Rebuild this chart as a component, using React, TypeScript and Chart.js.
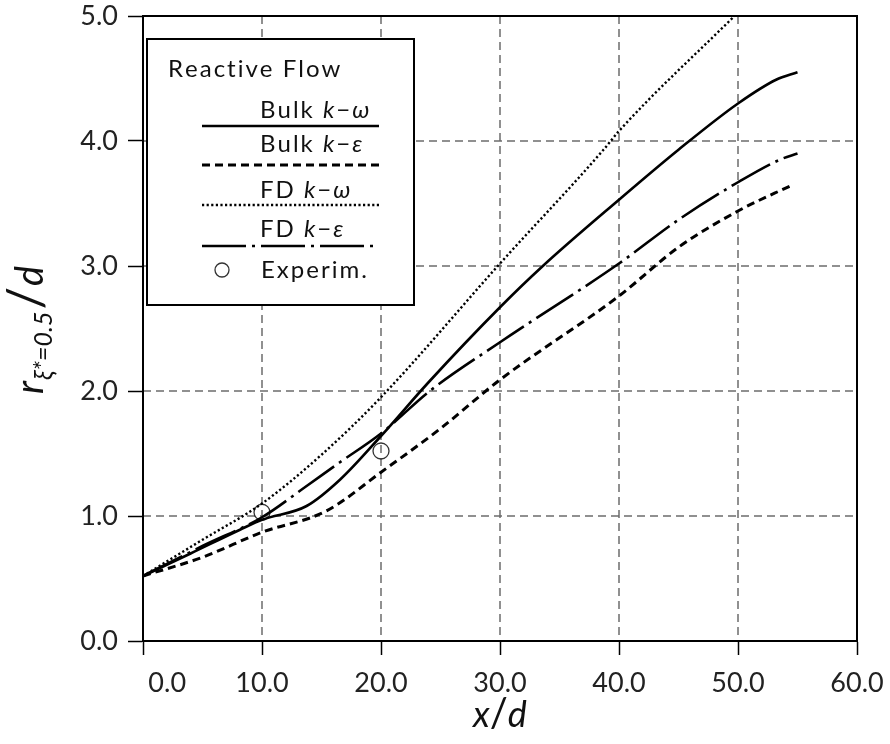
import React, { useEffect, useRef } from "react";
import { Chart, registerables } from "chart.js";

Chart.register(...registerables);

// ---- data ----
const xTicks = [0, 10, 20, 30, 40, 50, 60];
const yTicks = [0, 1, 2, 3, 4, 5];

const bulkKwX = [0, 4, 8.15, 10, 13.75, 16.55, 20, 24, 30, 33.6, 40, 45, 50, 53.2, 55];
const bulkKwY = [0.52, 0.7, 0.89, 0.97, 1.08, 1.29, 1.64, 2.07, 2.67, 3.0, 3.53, 3.93, 4.3, 4.49, 4.55];

const bulkKeX = [0, 5, 10, 15.4, 20, 25, 30, 40, 45, 50, 54.6];
const bulkKeY = [0.52, 0.67, 0.87, 1.04, 1.35, 1.7, 2.09, 2.76, 3.15, 3.44, 3.65];

const fdKwX = [0, 5, 10, 15, 20, 30, 38.7, 40, 49.7];
const fdKwY = [0.52, 0.81, 1.1, 1.49, 1.95, 3.02, 3.93, 4.08, 5.0];

const fdKeX = [0, 5, 10, 13.75, 16.55, 20, 24.1, 30, 40, 45, 50, 53.5, 55];
const fdKeY = [0.52, 0.76, 0.99, 1.24, 1.43, 1.66, 2.0, 2.39, 3.02, 3.37, 3.67, 3.85, 3.9];

const expX = [10, 20];
const expY = [1.03, 1.52];

const legendTitle = "Reactive Flow";
const seriesNames = ["Bulk", "Bulk", "FD", "FD"];
const seriesModels = [["k", "ω"], ["k", "ε"], ["k", "ω"], ["k", "ε"]];
const expLabel = "Experim.";

const FONT = "Lato, 'DejaVu Sans', sans-serif";

const pts = (xs: number[], ys: number[]) => xs.map((x, i) => ({ x, y: ys[i] }));

const lineStyles = [
  { dash: [] as number[], width: 2.6 },
  { dash: [8, 5], width: 3 },
  { dash: [2.2, 2.4], width: 2.4 },
  { dash: [44, 6, 3, 6], width: 2.6 },
];

type Part = [string, boolean, number, number, number?];

// draws text piece by piece; `sp` is extra space between characters
function drawParts(ctx: CanvasRenderingContext2D, x: number, y: number, parts: Part[], sp = 0) {
  let cx = x;
  for (const [t, it, size, dy, gap] of parts) {
    ctx.font = `${it ? "italic " : ""}${size}px ${FONT}`;
    if (sp === 0) {
      ctx.fillText(t, cx, y + dy);
      cx += ctx.measureText(t).width + (gap || 0);
    } else {
      for (const ch of Array.from(t)) {
        ctx.fillText(ch, cx, y + dy);
        cx += ctx.measureText(ch).width + sp;
      }
      cx += gap || 0;
    }
  }
  return cx;
}
function partsWidth(ctx: CanvasRenderingContext2D, parts: Part[]) {
  let w = 0;
  for (const [t, it, size, , gap] of parts) {
    ctx.font = `${it ? "italic " : ""}${size}px ${FONT}`;
    w += ctx.measureText(t).width + (gap || 0);
  }
  return w;
}

const decorPlugin = {
  id: "decor",
  beforeDatasetsDraw(chart: any) {
    const { ctx, chartArea: a, scales } = chart;
    const xs = scales.x, ys = scales.y;
    ctx.save();
    ctx.strokeStyle = "#6c6c6c";
    ctx.lineWidth = 1.5;
    ctx.setLineDash([8, 5]);
    for (const v of xTicks) {
      if (v === xs.min || v === xs.max) continue;
      const px = xs.getPixelForValue(v);
      ctx.beginPath();
      ctx.moveTo(px, a.top);
      ctx.lineTo(px, a.bottom);
      ctx.stroke();
    }
    for (const v of yTicks) {
      if (v === ys.min || v === ys.max) continue;
      const py = ys.getPixelForValue(v);
      ctx.beginPath();
      ctx.moveTo(a.left, py);
      ctx.lineTo(a.right, py);
      ctx.stroke();
    }
    ctx.restore();
  },
  afterDraw(chart: any) {
    const { ctx, chartArea: a } = chart;
    ctx.save();
    ctx.setLineDash([]);
    ctx.strokeStyle = "#000";
    ctx.lineWidth = 2;
    ctx.strokeRect(a.left, a.top, a.right - a.left, a.bottom - a.top);

    // legend box
    const bx = 147, by = 39, bw = 267, bh = 266;
    ctx.fillStyle = "#fff";
    ctx.fillRect(bx, by, bw, bh);
    ctx.lineWidth = 2;
    ctx.strokeRect(bx, by, bw, bh);

    ctx.fillStyle = "#111";
    ctx.textBaseline = "middle";
    ctx.textAlign = "left";
    drawParts(ctx, 168, 69, [[legendTitle, false, 24, 0]], 2);

    const textY = [110, 144, 190, 229];
    const lineY = [126, 165, 205, 246];
    for (let i = 0; i < 4; i++) {
      const [k, g] = seriesModels[i];
      drawParts(
        ctx,
        260,
        textY[i],
        [
          [seriesNames[i] + " ", false, 24, 0],
          [k, true, 24, 0],
          ["−", false, 24, 0],
          [g, true, 24, 0],
        ],
        2
      );
      ctx.save();
      ctx.setLineDash(lineStyles[i].dash);
      ctx.lineWidth = lineStyles[i].width;
      ctx.strokeStyle = "#000";
      ctx.beginPath();
      ctx.moveTo(202, lineY[i]);
      ctx.lineTo(379, lineY[i]);
      ctx.stroke();
      ctx.restore();
    }
    ctx.beginPath();
    ctx.lineWidth = 1.3;
    ctx.strokeStyle = "#333";
    ctx.arc(222, 270, 7, 0, Math.PI * 2);
    ctx.stroke();
    drawParts(ctx, 261, 270, [[expLabel, false, 24, 0]], 2);

    // x axis title
    ctx.textBaseline = "alphabetic";
    ctx.textAlign = "left";
    const xParts: Part[] = [
      ["x", true, 36, 0],
      ["/", false, 40, 0],
      ["d", true, 36, 0],
    ];
    const cxMid = (a.left + a.right) / 2;
    const xw = partsWidth(ctx, xParts);
    drawParts(ctx, cxMid - xw / 2, 727, xParts);

    // y axis title (rotated)
    const yParts: Part[] = [
      ["r", true, 38, 0, 1],
      ["ξ*=0.5", true, 25, 9, 2],
      ["/", false, 50, 0, 1],
      ["d", true, 38, 0],
    ];
    const yw = partsWidth(ctx, yParts);
    ctx.save();
    ctx.translate(43, 330 + yw / 2);
    ctx.rotate(-Math.PI / 2);
    drawParts(ctx, 0, 0, yParts);
    ctx.restore();

    ctx.restore();
  },
};

export default function App() {
  const ref = useRef<HTMLCanvasElement | null>(null);
  useEffect(() => {
    if (!ref.current) return;
    const datasets: any[] = [
      { label: "Bulk k−ω", data: pts(bulkKwX, bulkKwY) },
      { label: "Bulk k−ε", data: pts(bulkKeX, bulkKeY) },
      { label: "FD k−ω", data: pts(fdKwX, fdKwY) },
      { label: "FD k−ε", data: pts(fdKeX, fdKeY) },
    ].map((d, i) => ({
      ...d,
      type: "line",
      borderColor: "#000",
      borderWidth: lineStyles[i].width,
      borderDash: lineStyles[i].dash,
      pointRadius: 0,
      fill: false,
      cubicInterpolationMode: "monotone",
      borderCapStyle: "butt",
    }));
    datasets.push({
      label: "Experim.",
      type: "scatter",
      data: pts(expX, expY),
      showLine: false,
      pointRadius: 8,
      pointStyle: "circle",
      borderColor: "#333",
      borderWidth: 1.3,
      backgroundColor: "rgba(0,0,0,0)",
    });
    const chart = new Chart(ref.current, {
      type: "line",
      data: { datasets },
      options: {
        animation: false,
        responsive: false,
        devicePixelRatio: 1,
        layout: { padding: { left: 0, top: 16, right: 33, bottom: 0 } },
        plugins: { legend: { display: false }, tooltip: { enabled: false } },
        scales: {
          x: {
            type: "linear",
            min: 0,
            max: 60,
            afterBuildTicks: (s: any) => {
              s.ticks = xTicks.map((v) => ({ value: v }));
            },
            afterFit: (s: any) => {
              s.height = 103;
              s.paddingLeft = 0;
              s.paddingRight = 0;
            },
            ticks: {
              autoSkip: false,
              maxRotation: 0,
              padding: 12,
              color: "#222",
              font: { family: FONT, size: 27 },
              callback: (v: any) => (Number(v) === 0 ? "       0.0" : Number(v).toFixed(1)),
            },
            grid: { drawOnChartArea: false, drawTicks: true, tickLength: 14, tickColor: "#000", tickWidth: 1.5 },
            border: { display: true, color: "#000", width: 2 },
          },
          y: {
            type: "linear",
            min: 0,
            max: 5,
            afterBuildTicks: (s: any) => {
              s.ticks = yTicks.map((v) => ({ value: v }));
            },
            afterFit: (s: any) => {
              s.width = 143;
              s.paddingTop = 0;
              s.paddingBottom = 0;
            },
            ticks: {
              padding: 10,
              color: "#222",
              font: { family: FONT, size: 27 },
              callback: (v: any) => Number(v).toFixed(1),
            },
            grid: { drawOnChartArea: false, drawTicks: true, tickLength: 15, tickColor: "#000", tickWidth: 1.5 },
            border: { display: true, color: "#000", width: 2 },
          },
        },
      },
      plugins: [decorPlugin],
    } as any);
    return () => chart.destroy();
  }, []);
  return (
    <div style={{ position: "absolute", left: 0, top: 0, width: 890, height: 744, background: "#fff" }}>
      <canvas ref={ref} width={890} height={744} style={{ display: "block", width: 890, height: 744 }} />
    </div>
  );
}
